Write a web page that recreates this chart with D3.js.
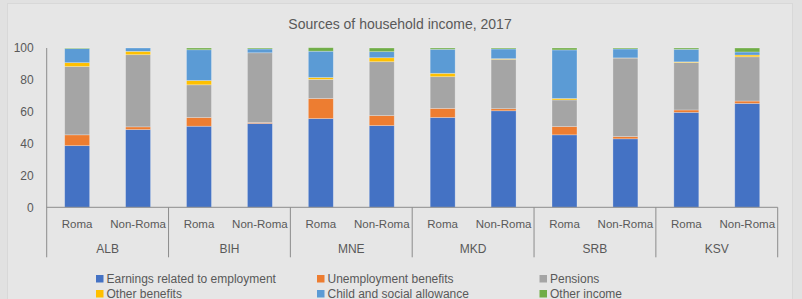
<!DOCTYPE html>
<html>
<head>
<meta charset="utf-8">
<script src="https://cdn.jsdelivr.net/npm/d3@7"></script>
<style>
  body { margin: 0; background: #e1e1e1; font-family: "Liberation Sans", Arial, sans-serif; }
  svg text { fill: #595959; }
</style>
</head>
<body>
<div id="chart"></div>
<script>
// data (percent of household income)
const countries = ["ALB", "BIH", "MNE", "MKD", "SRB", "KSV"];
const groups = ["Roma", "Non-Roma"];
const sources = ["Earnings related to employment", "Unemployment benefits", "Pensions",
    "Other benefits", "Child and social allowance", "Other income"];
const colors = ["#4472C4", "#ED7D31", "#A5A5A5", "#FFC000", "#5B9BD5", "#70AD47"];

// one array per source, order: ALB Roma, ALB Non-Roma, BIH Roma, ...
const earnings = [38.7, 48.8, 50.9, 52.6, 55.7, 51.3, 56.4, 60.6, 45.5, 43.0, 59.6, 65.2];
const unemployment = [6.8, 1.7, 5.5, 0.6, 12.6, 6.3, 5.7, 1.3, 5.2, 1.4, 1.5, 1.5];
const pensions = [42.9, 45.3, 20.5, 43.8, 12.0, 33.8, 19.9, 31.0, 16.7, 49.3, 29.8, 27.8];
const otherBenefits = [2.4, 2.1, 2.7, 0.0, 1.2, 2.5, 2.1, 0.4, 0.9, 0.1, 0.4, 1.1];
const childAllowance = [8.8, 2.1, 19.3, 2.4, 16.5, 3.8, 15.1, 6.1, 30.5, 5.6, 7.9, 1.9];
const otherIncome = [0.4, 0.0, 1.1, 0.6, 2.2, 2.3, 0.8, 0.6, 1.2, 0.6, 0.8, 2.5];
const yTicks = [0, 20, 40, 60, 80, 100];

const series = [earnings, unemployment, pensions, otherBenefits, childAllowance, otherIncome];

// rijen opbouwen voor d3.stack
const rows = [];
countries.forEach((c, i) => {
    groups.forEach((g, j) => {
        const k = i * 2 + j;
        const row = { id: c + "|" + g, country: c, group: g };
        sources.forEach((s, n) => { row[s] = series[n][k]; });
        rows.push(row);
    });
});

const width = 802, height = 299;
const margin = { top: 48, left: 46.7, right: 24.3, bottom: 92 };
const plotW = width - margin.left - margin.right;
const plotH = 207.3 - margin.top;

const svg = d3.select("#chart")
    .append("svg")
    .attr("width", width)
    .attr("height", height);

// chart area
svg.append("rect")
    .attr("x", 7.5).attr("y", 3.5)
    .attr("width", 785).attr("height", 300)
    .attr("fill", "#e6e6e6")
    .attr("stroke", "#d8d8d8");

svg.append("text")
    .attr("x", 400).attr("y", 29)
    .attr("text-anchor", "middle")
    .style("font-size", "14px")
    .text("Sources of household income, 2017");

const x = d3.scaleBand()
    .domain(rows.map(d => d.id))
    .range([0, plotW])
    .paddingInner(0.59)
    .paddingOuter(0.295);

const y = d3.scaleLinear().domain([0, 100]).range([plotH, 0]);

const stack = d3.stack().keys(sources);
const stacked = stack(rows);

const g = svg.append("g")
    .attr("transform", "translate(" + margin.left + "," + margin.top + ")");

// y-as
const yAxis = g.append("g")
    .call(d3.axisLeft(y).tickValues(yTicks).tickSize(0).tickPadding(13));
yAxis.select(".domain").remove();
yAxis.selectAll("text").style("font-size", "12px").attr("fill", "#595959");

// stacked bars
g.selectAll(".layer")
    .data(stacked)
    .enter()
    .append("g")
    .attr("class", "layer")
    .attr("fill", (d, i) => colors[i])
    .selectAll("rect")
    .data(d => d)
    .enter()
    .append("rect")
    .attr("x", d => x(d.data.id))
    .attr("width", x.bandwidth())
    .attr("y", d => y(d[1]))
    .attr("height", d => Math.max(0, y(d[0]) - y(d[1])))
    .attr("stroke", "rgba(255,255,255,0.35)")
    .attr("stroke-width", 0.75);

// category axis lines
const axisColor = "#8c8c8c";
g.append("line")
    .attr("x1", 0).attr("x2", plotW)
    .attr("y1", plotH).attr("y2", plotH)
    .attr("stroke", axisColor);
g.append("line")
    .attr("x1", 0).attr("x2", 0)
    .attr("y1", 0).attr("y2", plotH + 50)
    .attr("stroke", axisColor);

const groupW = plotW / countries.length;
countries.forEach((c, i) => {
    g.append("line")
        .attr("x1", (i + 1) * groupW).attr("x2", (i + 1) * groupW)
        .attr("y1", plotH).attr("y2", plotH + 50)
        .attr("stroke", axisColor);
    g.append("text")
        .attr("x", (i + 0.5) * groupW)
        .attr("y", plotH + 46)
        .attr("text-anchor", "middle")
        .style("font-size", "12px")
        .text(c);
});

rows.forEach(d => {
    g.append("text")
        .attr("x", x(d.id) + x.bandwidth() / 2)
        .attr("y", plotH + 21)
        .attr("text-anchor", "middle")
        .style("font-size", "11.5px")
        .text(d.group);
});

// legend
const legX = [96, 317, 539.5];
const legend = svg.selectAll(".legend")
    .data(sources)
    .enter()
    .append("g")
    .attr("class", "legend")
    .attr("transform", (d, i) => "translate(" + legX[i % 3] + "," + (275 + Math.floor(i / 3) * 15) + ")");
legend.append("rect")
    .attr("width", 7.5).attr("height", 7.5)
    .attr("fill", (d, i) => colors[i]);
legend.append("text")
    .attr("x", 10.5).attr("y", 8)
    .style("font-size", "12px")
    .text(d => d);
</script>
</body>
</html>
